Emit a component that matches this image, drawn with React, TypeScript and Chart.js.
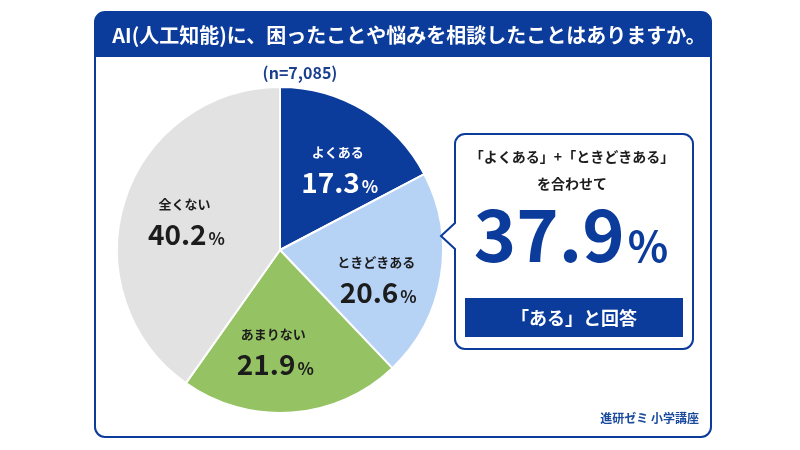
import { useEffect, useRef } from 'react';
import { Chart, registerables } from 'chart.js';

Chart.register(...registerables);

// Survey answers and their shares (%)
const categories = ['よくある', 'ときどきある', 'あまりない', '全くない'];
const shares = [17.3, 20.6, 21.9, 40.2];
const sliceColors = ['#0b3b9b', '#b6d3f6', '#95c263', '#e2e2e2'];
const labelColors = ['#ffffff', '#1c1c1c', '#1c1c1c', '#1c1c1c'];
// small clockwise nudges (degrees) for where each slice label sits
const labelAngleNudge = [4, 7, 8, 0];
// answers summed in the callout
const combinedIdx = [0, 1];

const titleText = 'AI(人工知能)に、困ったことや悩みを相談したことはありますか。';
const sampleNote = '(n=7,085)';
const calloutLines = ['「よくある」+「ときどきある」', 'を合わせて'];
const calloutBand = '「ある」と回答';
const sourceNote = '進研ゼミ 小学講座';

const NAVY = '#0b3b9b';
const FF = '"Noto Sans CJK JP", "Noto Sans", sans-serif';

function roundRectPath(ctx: CanvasRenderingContext2D, x: number, y: number, w: number, h: number, r: number) {
  ctx.beginPath();
  ctx.moveTo(x + r, y);
  ctx.lineTo(x + w - r, y);
  ctx.arcTo(x + w, y, x + w, y + r, r);
  ctx.lineTo(x + w, y + h - r);
  ctx.arcTo(x + w, y + h, x + w - r, y + h, r);
  ctx.lineTo(x + r, y + h);
  ctx.arcTo(x, y + h, x, y + h - r, r);
  ctx.lineTo(x, y + r);
  ctx.arcTo(x, y, x + r, y, r);
  ctx.closePath();
}

// number with a smaller percent sign, centred on x, baseline y
function drawValue(
  ctx: CanvasRenderingContext2D, x: number, y: number, num: string,
  numSize: number, pctSize: number, color: string, gap: number,
) {
  ctx.save();
  ctx.fillStyle = color;
  ctx.textBaseline = 'alphabetic';
  ctx.textAlign = 'left';
  ctx.font = `bold ${numSize}px ${FF}`;
  const w1 = ctx.measureText(num).width;
  ctx.font = `bold ${pctSize}px ${FF}`;
  const w2 = ctx.measureText('%').width;
  const start = x - (w1 + gap + w2) / 2;
  ctx.font = `bold ${numSize}px ${FF}`;
  ctx.fillText(num, start, y);
  ctx.font = `bold ${pctSize}px ${FF}`;
  ctx.fillText('%', start + w1 + gap, y);
  ctx.restore();
}

function text(ctx: CanvasRenderingContext2D, s: string, x: number, y: number, size: number, color: string, align: CanvasTextAlign = 'center') {
  ctx.save();
  ctx.font = `bold ${size}px ${FF}`;
  ctx.fillStyle = color;
  ctx.textAlign = align;
  ctx.textBaseline = 'middle';
  ctx.fillText(s, x, y);
  ctx.restore();
}

const panelPlugin = {
  id: 'panel',
  beforeDraw(chart: Chart) {
    const ctx = chart.ctx;
    ctx.save();
    ctx.fillStyle = '#ffffff';
    ctx.fillRect(0, 0, chart.width, chart.height);

    // card
    const cx = 95, cy = 12, cw = 616, ch = 425, r = 10;
    roundRectPath(ctx, cx, cy, cw, ch, r);
    ctx.fillStyle = '#ffffff';
    ctx.fill();

    // header band
    const hh = 45;
    ctx.beginPath();
    ctx.moveTo(cx, cy + hh);
    ctx.lineTo(cx, cy + r);
    ctx.arcTo(cx, cy, cx + r, cy, r);
    ctx.lineTo(cx + cw - r, cy);
    ctx.arcTo(cx + cw, cy, cx + cw, cy + r, r);
    ctx.lineTo(cx + cw, cy + hh);
    ctx.closePath();
    ctx.fillStyle = NAVY;
    ctx.fill();

    roundRectPath(ctx, cx, cy, cw, ch, r);
    ctx.lineWidth = 2;
    ctx.strokeStyle = NAVY;
    ctx.stroke();
    ctx.restore();

    text(ctx, titleText, 409, 35, 20, '#ffffff');
    text(ctx, sampleNote, 300, 73, 16, '#1a3f8f');
    text(ctx, sourceNote, 699, 418, 12, '#1a4a9c', 'right');
  },
  afterDatasetsDraw(chart: Chart) {
    const ctx = chart.ctx;
    const meta = chart.getDatasetMeta(0);

    // slice labels
    meta.data.forEach((el: any, i: number) => {
      const { x, y, startAngle, endAngle, outerRadius } = el.getProps(['x', 'y', 'startAngle', 'endAngle', 'outerRadius']);
      const mid = (startAngle + endAngle) / 2 + (labelAngleNudge[i] * Math.PI) / 180;
      const d = outerRadius * 0.615;
      const bx = x + Math.cos(mid) * d;
      const by = y + Math.sin(mid) * d;
      text(ctx, categories[i], bx, by - 16, 13, labelColors[i]);
      drawValue(ctx, bx + 2, by + 25, shares[i].toFixed(1), 28, 17, labelColors[i], 2);
    });

    // callout box with a pointer towards the pie
    const bx = 455, by = 134, bw = 238, bh = 215, r = 10;
    ctx.save();
    ctx.beginPath();
    ctx.moveTo(bx + r, by);
    ctx.lineTo(bx + bw - r, by);
    ctx.arcTo(bx + bw, by, bx + bw, by + r, r);
    ctx.lineTo(bx + bw, by + bh - r);
    ctx.arcTo(bx + bw, by + bh, bx + bw - r, by + bh, r);
    ctx.lineTo(bx + r, by + bh);
    ctx.arcTo(bx, by + bh, bx, by + bh - r, r);
    ctx.lineTo(bx, 249);
    ctx.lineTo(bx - 14, 236);
    ctx.lineTo(bx, 223);
    ctx.lineTo(bx, by + r);
    ctx.arcTo(bx, by, bx + r, by, r);
    ctx.closePath();
    ctx.fillStyle = '#ffffff';
    ctx.fill();
    ctx.lineWidth = 2;
    ctx.strokeStyle = NAVY;
    ctx.stroke();

    ctx.fillStyle = NAVY;
    ctx.fillRect(465, 298, 218, 39);
    ctx.restore();

    text(ctx, calloutLines[0], 572, 157, 14, '#1c1c1c');
    text(ctx, calloutLines[1], 572, 184, 14, '#1c1c1c');
    const combined = combinedIdx.reduce((s, i) => s + shares[i], 0);
    drawValue(ctx, 571, 262, combined.toFixed(1), 72, 42, NAVY, 3);
    text(ctx, calloutBand, 574, 318, 18, '#ffffff');
  },
};

export default function App() {
  const ref = useRef<HTMLCanvasElement>(null);
  useEffect(() => {
    document.body.style.margin = '0';
    const chart = new Chart(ref.current!, {
      type: 'pie',
      data: {
        labels: categories,
        datasets: [{
          data: shares,
          backgroundColor: sliceColors,
          borderColor: '#ffffff',
          borderWidth: 2,
          hoverOffset: 0,
          offset: 0,
        }],
      },
      options: {
        responsive: false,
        animation: false,
        events: [],
        layout: { padding: { left: 116, top: 86, right: 356, bottom: 36 } },
        plugins: { legend: { display: false }, tooltip: { enabled: false } },
      },
      plugins: [panelPlugin as any],
    });
    if (document.fonts && document.fonts.load) {
      document.fonts.load(`bold 16px ${FF}`).then(() => chart.update()).catch(() => {});
    }
    return () => chart.destroy();
  }, []);
  return (
    <div style={{ position: 'fixed', left: 0, top: 0, width: 800, height: 450, background: '#fff' }}>
      <canvas ref={ref} width={800} height={450} style={{ display: 'block' }} />
    </div>
  );
}
